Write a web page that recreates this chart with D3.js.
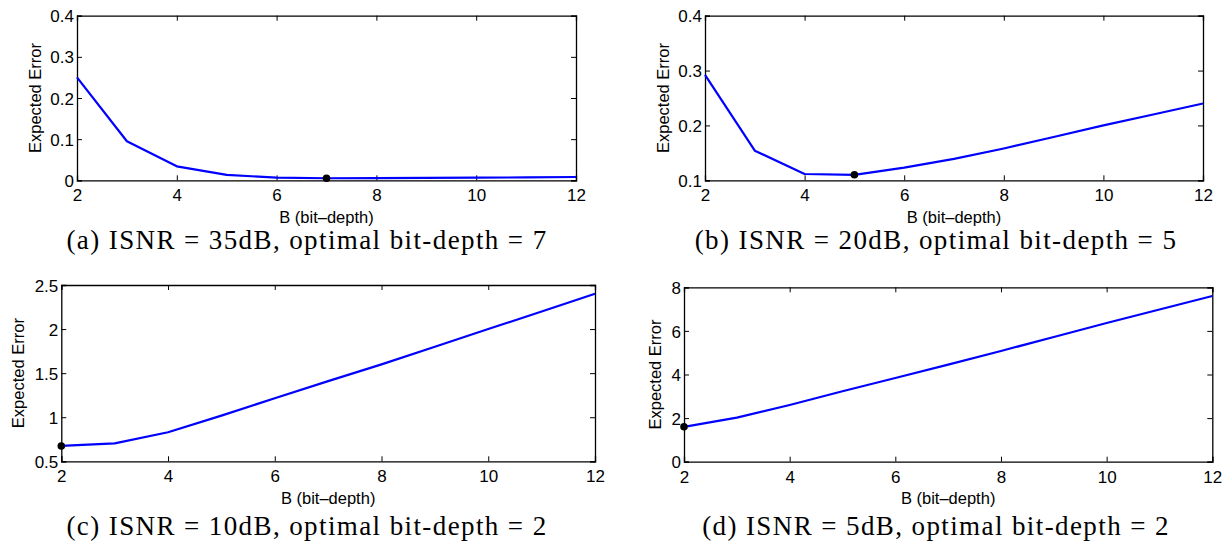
<!DOCTYPE html>
<html>
<head>
<meta charset="utf-8">
<script src="https://cdn.jsdelivr.net/npm/d3@7"></script>
<style>
  html, body { margin: 0; padding: 0; background: #fff; }
  svg { display: block; }
  .tick text { font-family: "Liberation Sans", Arial, sans-serif; font-size: 17px; fill: #000; }
  .axis-title { font-family: "Liberation Sans", Arial, sans-serif; font-size: 16.5px; fill: #000; }
  .caption { font-family: "Liberation Serif", "Times New Roman", serif; font-size: 27px; letter-spacing: 1.4px; fill: #000; }
</style>
</head>
<body>
<svg id="chart" width="1225" height="548"></svg>
<script>
// Bit-depth values on the horizontal axis
const bits = [2, 3, 4, 5, 6, 7, 8, 9, 10, 11, 12];
const xTicks = [2, 4, 6, 8, 10, 12];

// Expected error for each input SNR
const errA = [0.250, 0.095, 0.034, 0.013, 0.0065, 0.005, 0.0055, 0.006, 0.0065, 0.007, 0.008];
const errB = [0.292, 0.154, 0.1115, 0.110, 0.123, 0.139, 0.158, 0.179, 0.200, 0.220, 0.240];
const errC = [0.674, 0.704, 0.830, 1.018, 1.216, 1.410, 1.600, 1.800, 2.000, 2.200, 2.400];
const errD = [1.60, 2.02, 2.60, 3.23, 3.84, 4.45, 5.08, 5.72, 6.36, 6.98, 7.60];

// Panel metadata
const letters = ["a", "b", "c", "d"];
const isnrDb = [35, 20, 10, 5];
const optimalBits = [7, 5, 2, 2];
const yDomains = [[0, 0.4], [0.1, 0.4], [0.5, 2.5], [0, 8]];
const yTickValues = [
  [0, 0.1, 0.2, 0.3, 0.4],
  [0.1, 0.2, 0.3, 0.4],
  [0.5, 1, 1.5, 2, 2.5],
  [0, 2, 4, 6, 8]
];
const yTickLabels = [
  ["0", "0.1", "0.2", "0.3", "0.4"],
  ["0.1", "0.2", "0.3", "0.4"],
  ["0.5", "1", "1.5", "2", "2.5"],
  ["0", "2", "4", "6", "8"]
];
const series = [errA, errB, errC, errD];

// Layout of each panel's plot box
const boxes = [
  { left: 77,   right: 576,    top: 15.7,  bottom: 180.3, ylabX: 41,  capX: 307, capY: 249 },
  { left: 705,  right: 1203,   top: 15.7,  bottom: 180.3, ylabX: 669, capX: 936, capY: 249 },
  { left: 61.3, right: 595,    top: 285,   bottom: 461.3, ylabX: 23.5, capX: 307, capY: 535 },
  { left: 684,  right: 1212.3, top: 287.3, bottom: 461.7, ylabX: 661, capX: 936, capY: 535 }
];

const svg = d3.select("#chart");
const tickLen = 5;

boxes.forEach((b, i) => {
  const x = d3.scaleLinear().domain([2, 12]).range([b.left, b.right]);
  const y = d3.scaleLinear().domain(yDomains[i]).range([b.bottom, b.top]);
  const g = svg.append("g");

  // Bottom axis: inward ticks, labels below
  const bottomAxis = g.append("g")
    .attr("transform", `translate(0,${b.bottom})`)
    .call(d3.axisBottom(x).tickValues(xTicks).tickSize(-tickLen).tickPadding(0).tickFormat(d3.format("d")));
  bottomAxis.selectAll(".tick text").attr("y", 21).attr("dy", null);

  // Top axis: inward ticks only
  g.append("g")
    .attr("transform", `translate(0,${b.top})`)
    .call(d3.axisTop(x).tickValues(xTicks).tickSize(-tickLen).tickFormat(""));

  // Left axis: inward ticks, labels to the left
  const labels = yTickLabels[i];
  const leftAxis = g.append("g")
    .attr("transform", `translate(${b.left},0)`)
    .call(d3.axisLeft(y).tickValues(yTickValues[i]).tickSize(-tickLen).tickPadding(3)
      .tickFormat((d, k) => labels[k]));
  leftAxis.selectAll(".tick text").attr("x", -3).attr("dy", "0.36em");

  // Right axis: inward ticks only
  g.append("g")
    .attr("transform", `translate(${b.right},0)`)
    .call(d3.axisRight(y).tickValues(yTickValues[i]).tickSize(-tickLen).tickFormat(""));

  g.selectAll(".domain").attr("stroke", "#000").attr("stroke-width", 1.3);
  g.selectAll(".tick line").attr("stroke", "#000").attr("stroke-width", 1);

  // Error curve
  const line = d3.line().x((d, k) => x(bits[k])).y(d => y(d));
  g.append("path")
    .datum(series[i])
    .attr("fill", "none")
    .attr("stroke", "#0000ff")
    .attr("stroke-width", 2.2)
    .attr("stroke-linejoin", "round")
    .attr("d", line);

  // Optimal bit-depth marker
  const opt = optimalBits[i];
  g.append("circle")
    .attr("cx", x(opt))
    .attr("cy", y(series[i][bits.indexOf(opt)]))
    .attr("r", 3.8)
    .attr("fill", "#000");

  // Axis titles
  g.append("text")
    .attr("class", "axis-title")
    .attr("x", (b.left + b.right) / 2)
    .attr("y", b.bottom + 42.7)
    .attr("text-anchor", "middle")
    .text("B (bit\u2013depth)");

  g.append("text")
    .attr("class", "axis-title")
    .attr("transform", `translate(${b.ylabX},${(b.top + b.bottom) / 2}) rotate(-90)`)
    .attr("text-anchor", "middle")
    .text("Expected Error");

  // Subfigure caption
  svg.append("text")
    .attr("class", "caption")
    .attr("x", b.capX)
    .attr("y", b.capY)
    .attr("text-anchor", "middle")
    .text(`(${letters[i]}) ISNR = ${isnrDb[i]}dB, optimal bit-depth = ${opt}`);
});
</script>
</body>
</html>
